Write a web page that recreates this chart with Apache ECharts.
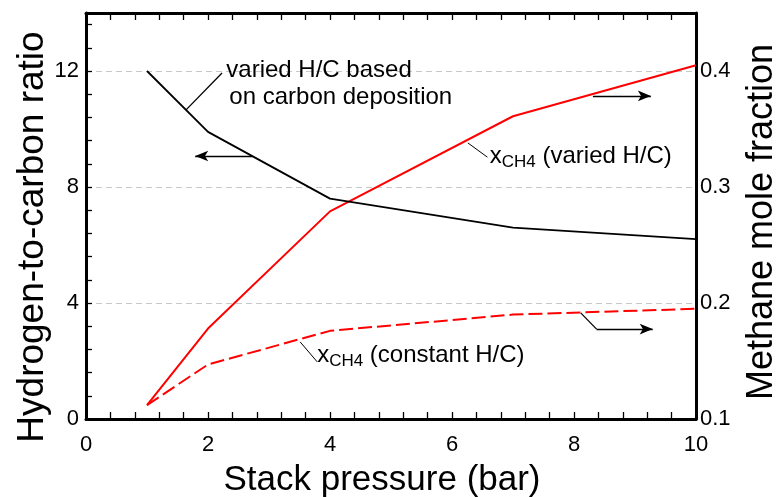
<!DOCTYPE html>
<html>
<head>
<meta charset="utf-8">
<script src="https://cdn.jsdelivr.net/npm/echarts@6/dist/echarts.min.js"></script>
<style>
html,body{margin:0;padding:0;background:#fff;}
#chart{width:783px;height:497px;}
</style>
</head>
<body>
<div id="chart"></div>
<script>
// ---- data ----
var pressure = [1, 2, 4, 7, 10];
var hcRatio = [12, 9.9, 7.6, 6.6, 6.2];
var xch4Varied = [0.112, 0.178, 0.279, 0.361, 0.405];
var xch4Constant = [0.112, 0.147, 0.176, 0.190, 0.195];
var xTicks = [0, 2, 4, 6, 8, 10];
var leftTicks = [0, 4, 8, 12];
var rightTicks = [0.1, 0.2, 0.3, 0.4];

var FONT = "'Liberation Sans', Arial, Helvetica, sans-serif";

function pairs(xs, ys) { return xs.map(function (x, i) { return [x, ys[i]]; }); }

var chart = echarts.init(document.getElementById('chart'), null, {renderer: 'canvas'});

var annotationLines = [
  {seg: [[2.73, 9.07], [1.79, 9.07]], arrow: true},
  {seg: [[8.31, 11.14], [9.26, 11.14]], arrow: true},
  {seg: [[8.11, 3.66], [8.37, 3.10]], arrow: false},
  {seg: [[8.37, 3.10], [9.29, 3.10]], arrow: true},
  {seg: [[1.64, 10.66], [2.23, 11.93]], arrow: false},
  {seg: [[6.26, 9.52], [6.58, 9.03]], arrow: false, thin: true},
  {seg: [[3.51, 2.66], [3.79, 1.97]], arrow: false, thin: true}
];

var mlData = annotationLines.map(function (a) {
  return [
    {coord: a.seg[0], symbol: 'none', lineStyle: {width: a.thin ? 1 : 1.3, color: '#000', type: 'solid'}},
    {coord: a.seg[1], symbol: a.arrow ? 'arrow' : 'none', symbolSize: [8, 13]}
  ];
});

function xAxisDef(pos, labels) {
  return {
    type: 'value', min: 0, max: 10, interval: 2, position: pos,
    axisLine: {show: true, onZero: false, lineStyle: {color: '#000', width: 3}},
    axisTick: {show: true, inside: true, length: 7, lineStyle: {color: '#000', width: 1.3}},
    minorTick: {show: true, splitNumber: 5, length: 7, lineStyle: {color: '#000', width: 1.3}},
    axisLabel: labels ? {fontSize: 22, color: '#000', margin: 15, fontFamily: FONT,
      formatter: function (v) { return xTicks.indexOf(v) >= 0 ? String(v) : ''; }} : {show: false},
    splitLine: {show: false}
  };
}

var option = {
  animation: false,
  backgroundColor: '#fff',
  textStyle: {fontFamily: FONT},
  grid: {left: 86, right: 87, top: 13, bottom: 78, containLabel: false},
  xAxis: [xAxisDef('bottom', true), xAxisDef('top', false)],
  yAxis: [{
    type: 'value', min: 0, max: 14, interval: 4, position: 'left',
    axisLine: {show: true, onZero: false, lineStyle: {color: '#000', width: 3}},
    axisTick: {show: true, inside: true, length: 6, lineStyle: {color: '#000', width: 1.3}},
    minorTick: {show: true, splitNumber: 5, length: 6, lineStyle: {color: '#000', width: 1.3}},
    axisLabel: {fontSize: 22, color: '#000', margin: 7, fontFamily: FONT,
      formatter: function (v) { return leftTicks.indexOf(v) >= 0 ? String(v) : ''; }},
    splitLine: {show: true, lineStyle: {color: '#c8c8c8', width: 1, type: [6, 4]}}
  }, {
    type: 'value', min: 0.1, max: 0.45, interval: 0.1, position: 'right',
    axisLine: {show: true, onZero: false, lineStyle: {color: '#000', width: 3}},
    axisTick: {show: false},
    axisLabel: {fontSize: 22, color: '#000', margin: 4, fontFamily: FONT,
      formatter: function (v) {
        for (var i = 0; i < rightTicks.length; i++) {
          if (Math.abs(rightTicks[i] - v) < 1e-6) return rightTicks[i].toFixed(1);
        }
        return '';
      }},
    splitLine: {show: false}
  }],
  series: [{
    name: 'H/C', type: 'line', xAxisIndex: 0, yAxisIndex: 0,
    data: pairs(pressure, hcRatio), symbol: 'none', z: 3,
    lineStyle: {color: '#000', width: 1.8},
    markLine: {
      silent: true, animation: false, symbol: ['none', 'none'],
      label: {show: false}, emphasis: {disabled: true},
      lineStyle: {color: '#000', type: 'solid', width: 1.3},
      data: mlData
    }
  }, {
    name: 'xCH4 varied', type: 'line', xAxisIndex: 0, yAxisIndex: 1,
    data: pairs(pressure, xch4Varied), symbol: 'none', z: 2,
    lineStyle: {color: '#ff0000', width: 2}
  }, {
    name: 'xCH4 constant', type: 'line', xAxisIndex: 0, yAxisIndex: 1,
    data: pairs(pressure, xch4Constant), symbol: 'none', z: 2,
    lineStyle: {color: '#ff0000', width: 2, type: [14, 5]}
  }, {
    name: 'top-axis', type: 'line', xAxisIndex: 1, yAxisIndex: 0,
    data: [], symbol: 'none', silent: true
  }]
};

chart.setOption(option);

function px(pt) { return chart.convertToPixel({xAxisIndex: 0, yAxisIndex: 0}, pt); }

var rich = {
  m: {fontSize: 24, fontFamily: FONT, color: '#000'},
  s: {fontSize: 17, fontFamily: FONT, color: '#000', padding: [12, 0, 0, 0]}
};
var texts = [
  {at: [2.30, 12.03], text: '{m|varied H/C based}'},
  {at: [2.35, 11.10], text: '{m|on carbon deposition}'},
  {at: [6.62, 9.07], text: '{m|x}{s|CH4}{m| (varied H/C)}'},
  {at: [3.79, 2.21], text: '{m|x}{s|CH4}{m| (constant H/C)}'}
];
var graphics = texts.map(function (t) {
  var p = px(t.at);
  return {
    type: 'text', x: p[0], y: p[1], z: 10, silent: true,
    style: {text: t.text, rich: rich, align: 'left', verticalAlign: 'middle', fill: '#000', font: '24px ' + FONT}
  };
});
graphics.push({type: 'text', x: 382, y: 480, silent: true,
  style: {text: 'Stack pressure (bar)', align: 'center', verticalAlign: 'middle', fill: '#000', font: '35px ' + FONT}});
graphics.push({type: 'text', x: 33, y: 237, rotation: Math.PI / 2, silent: true,
  style: {text: 'Hydrogen-to-carbon ratio', align: 'center', verticalAlign: 'middle', fill: '#000', font: '37px ' + FONT}});
graphics.push({type: 'text', x: 762, y: 222, rotation: Math.PI / 2, silent: true,
  style: {text: 'Methane mole fraction', align: 'center', verticalAlign: 'middle', fill: '#000', font: '36px ' + FONT}});
chart.setOption({graphic: graphics});
</script>
</body>
</html>
